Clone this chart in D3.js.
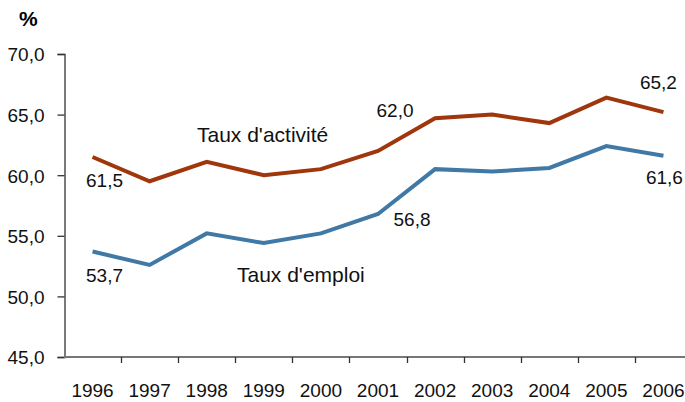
<!DOCTYPE html>
<html>
<head>
<meta charset="utf-8">
<script src="https://cdn.jsdelivr.net/npm/d3@7"></script>
<style>
  body { margin: 0; background: #fff; }
  svg { display: block; }
  .num { font-family: "Liberation Sans", Arial, sans-serif; font-size: 19px; fill: #111; }
  .name { font-family: "Liberation Sans", Arial, sans-serif; font-size: 21px; fill: #111; }
</style>
</head>
<body>
<div id="chart"></div>
<script>
var years = ['1996', '1997', '1998', '1999', '2000', '2001', '2002', '2003', '2004', '2005', '2006'];
var activite = [61.5, 59.5, 61.1, 60.0, 60.5, 62.0, 64.7, 65.0, 64.3, 66.4, 65.2];
var emploi = [53.7, 52.6, 55.2, 54.4, 55.2, 56.8, 60.5, 60.3, 60.6, 62.4, 61.6];
var y_ticks = [45, 50, 55, 60, 65, 70];
var labelled = [0, 5, 10];

var chart_width = 685;
var chart_height = 402;

var svg = d3.select('#chart')
    .append('svg')
    .attr('width', chart_width)
    .attr('height', chart_height);

// Scales
var x_scale = d3.scaleBand()
    .domain(years)
    .range([64, 692])
    .padding(0);
var y_scale = d3.scaleLinear()
    .domain([45, 70])
    .range([357, 54]);

var fmt = function(v){ return d3.format('.1f')(v).replace('.', ','); };
var cx = function(d){ return x_scale(d) + x_scale.bandwidth() / 2; };

// Y axis
var y_axis = d3.axisLeft(y_scale)
    .tickValues(y_ticks)
    .tickSize(7)
    .tickPadding(13)
    .tickFormat(fmt);
var gy = svg.append('g')
    .attr('transform', 'translate(64.5,0)')
    .call(y_axis);
gy.select('.domain').attr('stroke', '#333').attr('stroke-width', 1.3);
gy.selectAll('.tick line').attr('stroke', '#333').attr('stroke-width', 1.3);
gy.selectAll('.tick text').attr('class', 'num').attr('font-family', null).attr('font-size', null).attr('dy', '0.36em');

// X axis (ticks between categories)
var gx = svg.append('g');
gx.append('line')
    .attr('x1', x_scale.range()[0]).attr('x2', chart_width)
    .attr('y1', y_scale(45)).attr('y2', y_scale(45))
    .attr('stroke', '#777').attr('stroke-width', 2);
gx.selectAll('.xt')
    .data(years.slice(1))
    .enter().append('line')
    .attr('x1', function(d){ return Math.round(x_scale(d)) + 0.5; })
    .attr('x2', function(d){ return Math.round(x_scale(d)) + 0.5; })
    .attr('y1', y_scale(45)).attr('y2', y_scale(45) + 6)
    .attr('stroke', '#333').attr('stroke-width', 1.3);
gx.selectAll('.xl')
    .data(years)
    .enter().append('text')
    .attr('class', 'num')
    .attr('x', cx)
    .attr('y', 397)
    .attr('text-anchor', 'middle')
    .text(function(d){ return d; });

// % title
svg.append('text')
    .attr('x', 19).attr('y', 26)
    .attr('font-family', 'Liberation Sans, Arial, sans-serif')
    .attr('font-weight', 'bold')
    .attr('font-size', '21px')
    .text('%');

// Lines
var line = function(vals){
    return d3.line()
        .x(function(d, i){ return cx(years[i]); })
        .y(function(d){ return y_scale(d); })(vals);
};
svg.append('path')
    .attr('d', line(activite))
    .attr('fill', 'none')
    .attr('stroke', '#A0360C')
    .attr('stroke-width', 4);
svg.append('path')
    .attr('d', line(emploi))
    .attr('fill', 'none')
    .attr('stroke', '#4079A5')
    .attr('stroke-width', 4);

// Value labels
var act_off = [[12, 30], [17, -34], [-5, -23]];
var emp_off = [[12, 30], [34, 12], [1, 28]];
labelled.forEach(function(i, k){
    svg.append('text').attr('class', 'num')
        .attr('x', cx(years[i]) + act_off[k][0])
        .attr('y', y_scale(activite[i]) + act_off[k][1])
        .attr('text-anchor', 'middle')
        .text(fmt(activite[i]));
    svg.append('text').attr('class', 'num')
        .attr('x', cx(years[i]) + emp_off[k][0])
        .attr('y', y_scale(emploi[i]) + emp_off[k][1])
        .attr('text-anchor', 'middle')
        .text(fmt(emploi[i]));
});

// Series names
svg.append('text').attr('class', 'name')
    .attr('x', 197).attr('y', 142)
    .text("Taux d'activité");
svg.append('text').attr('class', 'name')
    .attr('x', 237).attr('y', 282)
    .text("Taux d'emploi");
</script>
</body>
</html>
